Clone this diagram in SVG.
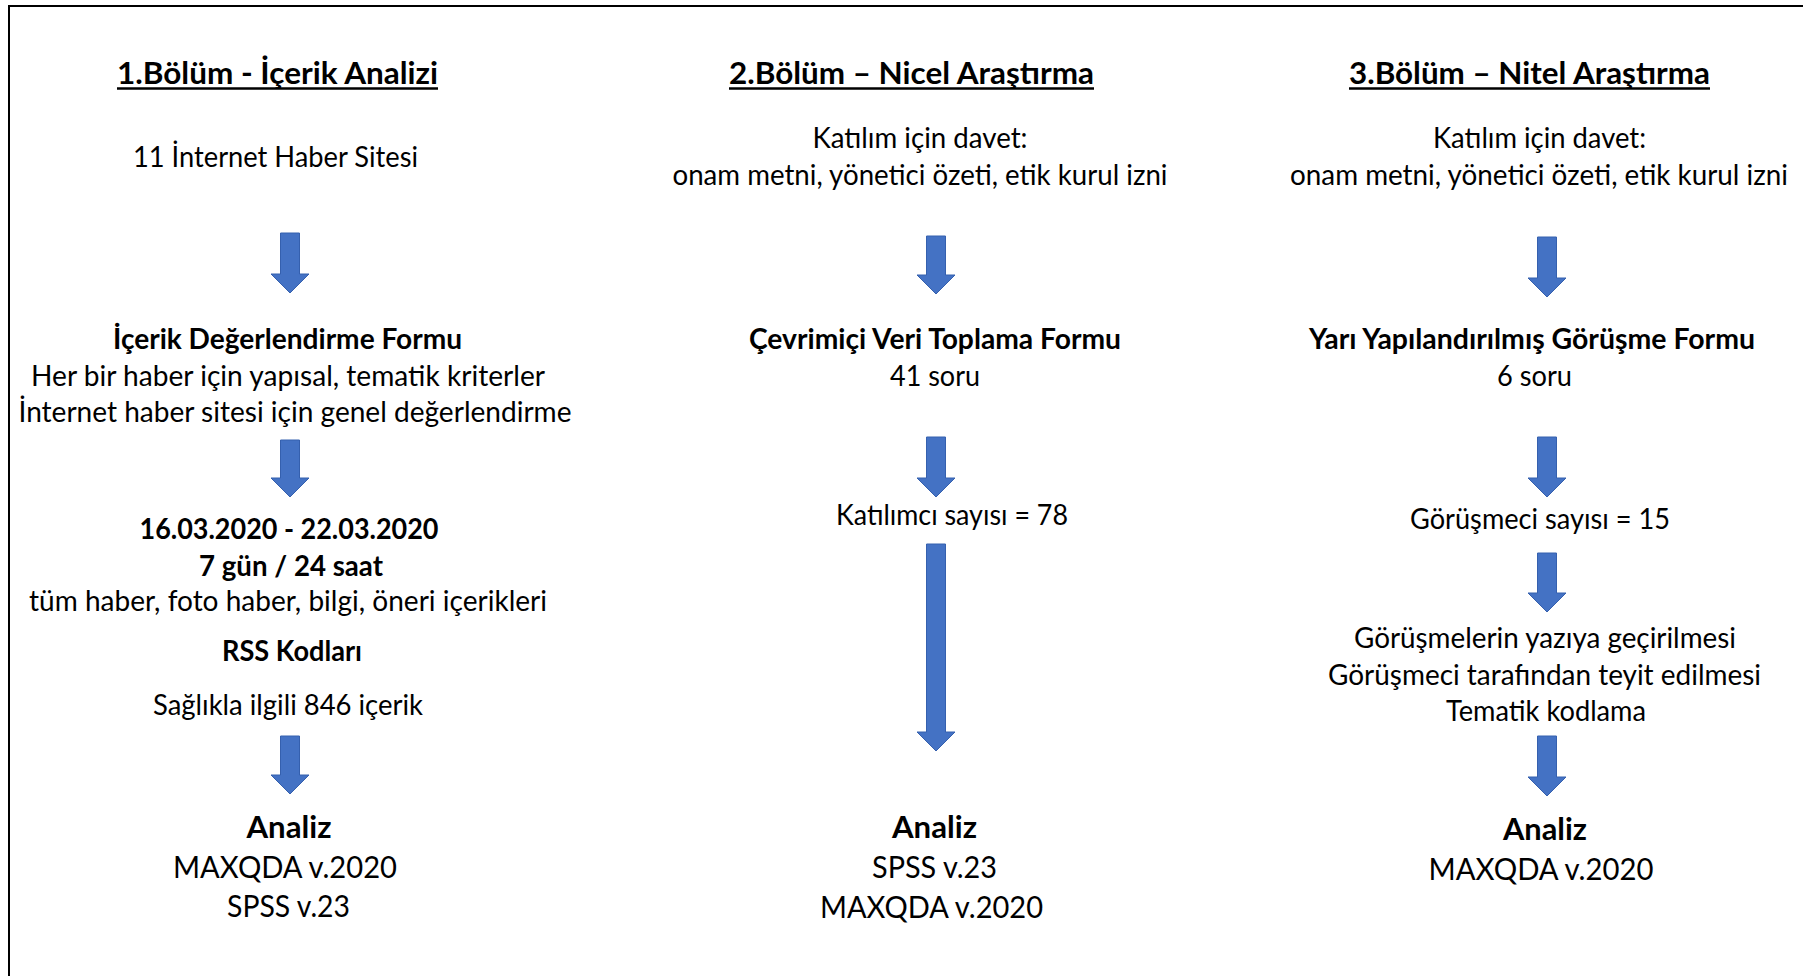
<svg xmlns="http://www.w3.org/2000/svg" width="1803" height="976" viewBox="0 0 1803 976">
<style>
text{font-family:Lato,"Open Sans","Liberation Sans",sans-serif;fill:#000;text-anchor:middle}
.t{font-size:31px;font-weight:700}
.b{font-size:28px}
.bb{font-size:28px;font-weight:700}
.a{font-size:30px}
.ab{font-size:30px;font-weight:700}
.ul{stroke:#000;stroke-width:2.5}
.arr{fill:#4472C4;stroke:#3560AE;stroke-width:1}
</style>
<rect width="1803" height="976" fill="#fff"/>
<path d="M9,990 V6 H1815" fill="none" stroke="#000" stroke-width="2"/>

<g id="col1">
<g id="title1"><text class="t" x="277.5" y="84" textLength="321" lengthAdjust="spacingAndGlyphs">1.Bölüm - İçerik Analizi</text><line class="ul" x1="117" y1="88.5" x2="438" y2="88.5"/></g>
<g id="n1-sites"><text class="b" x="275.5" y="167" textLength="285" lengthAdjust="spacingAndGlyphs">11 İnternet Haber Sitesi</text></g>
<g id="n1-form"><text class="bb" x="287.5" y="349" textLength="349" lengthAdjust="spacingAndGlyphs">İçerik Değerlendirme Formu</text>
<text class="b" x="288" y="386" textLength="514" lengthAdjust="spacingAndGlyphs">Her bir haber için yapısal, tematik kriterler</text>
<text class="b" x="295" y="422" textLength="553" lengthAdjust="spacingAndGlyphs">İnternet haber sitesi için genel değerlendirme</text></g>
<g id="n1-period"><text class="bb" x="289" y="539" textLength="299" lengthAdjust="spacingAndGlyphs">16.03.2020 - 22.03.2020</text>
<text class="bb" x="291" y="576" textLength="184" lengthAdjust="spacingAndGlyphs">7 gün / 24 saat</text>
<text class="b" x="288" y="611" textLength="518" lengthAdjust="spacingAndGlyphs">tüm haber, foto haber, bilgi, öneri içerikleri</text>
<text class="bb" x="292" y="661" textLength="140" lengthAdjust="spacingAndGlyphs">RSS Kodları</text>
<text class="b" x="288" y="715" textLength="270" lengthAdjust="spacingAndGlyphs">Sağlıkla ilgili 846 içerik</text></g>
<g id="n1-analysis"><text class="ab" x="289" y="838" textLength="85" lengthAdjust="spacingAndGlyphs">Analiz</text>
<text class="a" x="285" y="878" textLength="224" lengthAdjust="spacingAndGlyphs">MAXQDA v.2020</text>
<text class="a" x="288.5" y="917" textLength="123" lengthAdjust="spacingAndGlyphs">SPSS v.23</text></g>
</g>

<g id="col2">
<g id="title2"><text class="t" x="911.5" y="84" textLength="365" lengthAdjust="spacingAndGlyphs">2.Bölüm – Nicel Araştırma</text><line class="ul" x1="729" y1="88.5" x2="1094" y2="88.5"/></g>
<g id="n2-invite"><text class="b" x="920" y="148" textLength="215" lengthAdjust="spacingAndGlyphs">Katılım için davet:</text>
<text class="b" x="920" y="185" textLength="495" lengthAdjust="spacingAndGlyphs">onam metni, yönetici özeti, etik kurul izni</text></g>
<g id="n2-form"><text class="bb" x="935" y="349" textLength="372" lengthAdjust="spacingAndGlyphs">Çevrimiçi Veri Toplama Formu</text>
<text class="b" x="935" y="386" textLength="90" lengthAdjust="spacingAndGlyphs">41 soru</text></g>
<g id="n2-count"><text class="b" x="952" y="525" textLength="232" lengthAdjust="spacingAndGlyphs">Katılımcı sayısı = 78</text></g>
<g id="n2-analysis"><text class="ab" x="934.5" y="838" textLength="85" lengthAdjust="spacingAndGlyphs">Analiz</text>
<text class="a" x="934.5" y="878" textLength="125" lengthAdjust="spacingAndGlyphs">SPSS v.23</text>
<text class="a" x="931.5" y="918" textLength="223" lengthAdjust="spacingAndGlyphs">MAXQDA v.2020</text></g>
</g>

<g id="col3">
<g id="title3"><text class="t" x="1529.5" y="84" textLength="361" lengthAdjust="spacingAndGlyphs">3.Bölüm – Nitel Araştırma</text><line class="ul" x1="1349" y1="88.5" x2="1710" y2="88.5"/></g>
<g id="n3-invite"><text class="b" x="1539.5" y="148" textLength="213" lengthAdjust="spacingAndGlyphs">Katılım için davet:</text>
<text class="b" x="1539" y="185" textLength="498" lengthAdjust="spacingAndGlyphs">onam metni, yönetici özeti, etik kurul izni</text></g>
<g id="n3-form"><text class="bb" x="1532" y="349" textLength="446" lengthAdjust="spacingAndGlyphs">Yarı Yapılandırılmış Görüşme Formu</text>
<text class="b" x="1534.5" y="386" textLength="75" lengthAdjust="spacingAndGlyphs">6 soru</text></g>
<g id="n3-count"><text class="b" x="1540" y="529" textLength="260" lengthAdjust="spacingAndGlyphs">Görüşmeci sayısı = 15</text></g>
<g id="n3-process"><text class="b" x="1545" y="648" textLength="382" lengthAdjust="spacingAndGlyphs">Görüşmelerin yazıya geçirilmesi</text>
<text class="b" x="1544.5" y="685" textLength="433" lengthAdjust="spacingAndGlyphs">Görüşmeci tarafından teyit edilmesi</text>
<text class="b" x="1546" y="721" textLength="200" lengthAdjust="spacingAndGlyphs">Tematik kodlama</text></g>
<g id="n3-analysis"><text class="ab" x="1545" y="840" textLength="84" lengthAdjust="spacingAndGlyphs">Analiz</text>
<text class="a" x="1541" y="880" textLength="225" lengthAdjust="spacingAndGlyphs">MAXQDA v.2020</text></g>
</g>

<g id="connectors">
<path class="arr" d="M280.5,233 H299.5 V274 H309 L290,293 L271,274 H280.5 Z"/>
<path class="arr" d="M280.5,440 H299.5 V478 H309 L290,497 L271,478 H280.5 Z"/>
<path class="arr" d="M280.5,736 H299.5 V775 H309 L290,794 L271,775 H280.5 Z"/>
<path class="arr" d="M926.5,236 H945.5 V275 H955 L936,294 L917,275 H926.5 Z"/>
<path class="arr" d="M926.5,437 H945.5 V478 H955 L936,497 L917,478 H926.5 Z"/>
<path class="arr" d="M926.5,544 H945.5 V732 H955 L936,751 L917,732 H926.5 Z"/>
<path class="arr" d="M1537.5,237 H1556.5 V278 H1566 L1547,297 L1528,278 H1537.5 Z"/>
<path class="arr" d="M1537.5,437 H1556.5 V478 H1566 L1547,497 L1528,478 H1537.5 Z"/>
<path class="arr" d="M1537.5,553 H1556.5 V593 H1566 L1547,612 L1528,593 H1537.5 Z"/>
<path class="arr" d="M1537.5,736 H1556.5 V777 H1566 L1547,796 L1528,777 H1537.5 Z"/>
</g>
</svg>
